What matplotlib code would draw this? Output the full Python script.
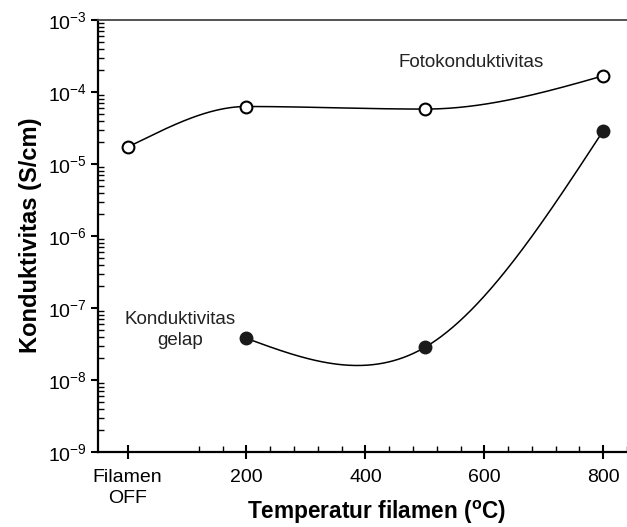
import matplotlib.pyplot as plt
import numpy as np

# datos (x = 0 -> filamen OFF)
foto_x = [0, 200, 500, 800]
foto_y = [1.72e-5, 6.3e-5, 5.8e-5, 1.68e-4]
gelap_x = [200, 500, 800]
gelap_y = [3.8e-8, 2.85e-8, 2.9e-5]

xticks = [0, 200, 400, 600, 800]
xticklabels = ['Filamen\nOFF', '200', '400', '600', '800']
yexp = [-9, -8, -7, -6, -5, -4, -3]

plt.rcParams['font.family'] = ['Liberation Sans', 'DejaVu Sans']
plt.rcParams['mathtext.fontset'] = 'custom'
plt.rcParams['mathtext.rm'] = 'Liberation Sans'
plt.rcParams['mathtext.bf'] = 'Liberation Sans:bold'


def hermite(x, y, d, n=300):
    '''Evalua una curva de Hermite cubica con derivadas d.'''
    xs = np.linspace(x[0], x[-1], n)
    k = len(x)
    idx = np.clip(np.searchsorted(x, xs) - 1, 0, k - 2)
    h = x[idx + 1] - x[idx]
    t = (xs - x[idx]) / h
    h00 = 2 * t**3 - 3 * t**2 + 1
    h10 = t**3 - 2 * t**2 + t
    h01 = -2 * t**3 + 3 * t**2
    h11 = t**3 - t**2
    ys = h00 * y[idx] + h10 * h * d[idx] + h01 * y[idx + 1] + h11 * h * d[idx + 1]
    return xs, ys


def spline_natural(x, y):
    '''Spline cubico natural (en escala log).'''
    x = np.asarray(x, float)
    y = np.log10(np.asarray(y, float))
    h = np.diff(x)
    k = len(x)
    A = np.zeros((k, k))
    b = np.zeros(k)
    A[0, 0] = A[-1, -1] = 1
    for i in range(1, k - 1):
        A[i, i - 1] = h[i - 1]
        A[i, i] = 2 * (h[i - 1] + h[i])
        A[i, i + 1] = h[i]
        b[i] = 6 * ((y[i + 1] - y[i]) / h[i] - (y[i] - y[i - 1]) / h[i - 1])
    M = np.linalg.solve(A, b)
    s = np.diff(y) / h
    d = np.zeros(k)
    d[:-1] = s - h * (2 * M[:-1] + M[1:]) / 6
    d[-1] = s[-1] + h[-1] * (M[-2] + 2 * M[-1]) / 6
    xs, ys = hermite(x, y, d)
    return xs, 10 ** ys


def pchip(x, y):
    '''Interpolacion monotona por tramos (en escala log).'''
    x = np.asarray(x, float)
    y = np.log10(np.asarray(y, float))
    h = np.diff(x)
    s = np.diff(y) / h
    k = len(x)
    d = np.zeros(k)
    for i in range(1, k - 1):
        if s[i - 1] * s[i] > 0:
            w1 = 2 * h[i] + h[i - 1]
            w2 = h[i] + 2 * h[i - 1]
            d[i] = (w1 + w2) / (w1 / s[i - 1] + w2 / s[i])
    d[0] = ((2 * h[0] + h[1]) * s[0] - h[0] * s[1]) / (h[0] + h[1])
    if np.sign(d[0]) != np.sign(s[0]):
        d[0] = 0
    d[-1] = ((2 * h[-1] + h[-2]) * s[-1] - h[-1] * s[-2]) / (h[-1] + h[-2])
    if np.sign(d[-1]) != np.sign(s[-1]):
        d[-1] = 0
    xs, ys = hermite(x, y, d)
    return xs, 10 ** ys


fig = plt.figure(figsize=(6.27, 5.27), dpi=100)
ax = fig.add_axes([0.156, 0.142, 0.844, 0.820])

xs, ys = pchip(foto_x, foto_y)
ax.plot(xs, ys, color='black', lw=1.1)
ax.plot(foto_x, foto_y, 'o', ms=8.5, mfc='white', mec='black', mew=1.5)

xs, ys = spline_natural(gelap_x, gelap_y)
ax.plot(xs, ys, color='black', lw=1.1)
ax.plot(gelap_x, gelap_y, 'o', ms=9, mfc='#1a1a1a', mec='#1a1a1a')

ax.set_yscale('log')
ax.set_ylim(1e-9, 1e-3)
ax.set_xlim(-50, 837)

ax.set_yticks([10.0 ** e for e in yexp])
ax.set_yticklabels([r'$\mathregular{10^{%d}}$' % e for e in yexp])
ax.set_xticks(xticks)
ax.set_xticklabels(xticklabels)
for lab in ax.get_xticklabels():
    lab.set_linespacing(1.35)
ax.set_xticks([120, 160] + list(range(240, 800, 40)) + [840], minor=True)
ax.yaxis.set_minor_locator(plt.matplotlib.ticker.LogLocator(base=10, subs=np.arange(2, 10)))
ax.yaxis.set_minor_formatter(plt.NullFormatter())

ax.tick_params(axis='y', which='major', direction='out', length=5, width=1.5, labelsize=14, pad=3)
ax.tick_params(axis='y', which='minor', direction='in', length=4, width=1)
ax.tick_params(axis='x', which='major', direction='inout', length=10, width=1.5, labelsize=14, pad=7)
ax.tick_params(axis='x', which='minor', direction='in', length=4, width=1)

ax.spines['right'].set_visible(False)
for s in ['left', 'bottom']:
    ax.spines[s].set_linewidth(1.6)
ax.spines['top'].set_linewidth(1.3)
ax.spines['top'].set_color('#444444')

ax.set_ylabel('Konduktivitas (S/cm)', fontsize=17, fontweight='bold')
ax.yaxis.set_label_coords(-0.105, 0.503)
ax.set_xlabel(r'Temperatur filamen ($\mathbf{^{o}}$C)', fontsize=16.3, fontweight='bold')
ax.xaxis.set_label_coords(0.526, -0.109)

ax.text(578, 2.6e-4, 'Fotokonduktivitas', fontsize=13.5, ha='center', va='center', color='#222222')
ax.text(88, 5e-8, 'Konduktivitas\ngelap', fontsize=13.5, ha='center', va='center',
        color='#222222', linespacing=1.3)

fig.savefig('out.png', dpi=100)
